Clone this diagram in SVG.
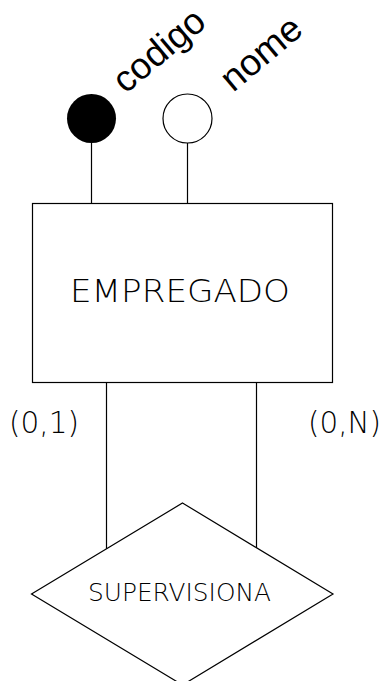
<svg xmlns="http://www.w3.org/2000/svg" width="386" height="681" viewBox="0 0 386 681">
<style>
.s{fill:none;stroke:#000;stroke-width:1.2}
.n{fill:#fff;stroke:#000;stroke-width:1.2}
.t{font-family:"DejaVu Sans","Liberation Sans",sans-serif;font-weight:200;fill:#000}
.r{font-family:"Liberation Sans",Arial,sans-serif;font-size:37px;fill:#000}
</style>
<rect width="386" height="681" fill="#fff"/>
<g id="connectors">
<line class="s" x1="91.5" y1="143" x2="91.5" y2="203"/>
<line class="s" x1="187.5" y1="143" x2="187.5" y2="203"/>
<line class="s" x1="106.5" y1="383" x2="106.5" y2="549"/>
<line class="s" x1="256.5" y1="383" x2="256.5" y2="549"/>
<text class="t" x="9" y="433" font-size="30" textLength="70" lengthAdjust="spacingAndGlyphs">(0,1)</text>
<text class="t" x="308" y="433" font-size="30" textLength="73" lengthAdjust="spacingAndGlyphs">(0,N)</text>
</g>
<g id="attr-codigo">
<circle cx="91.5" cy="118.5" r="24.5" fill="#000"/>
<text class="r" textLength="108" lengthAdjust="spacingAndGlyphs" transform="translate(125.5 94.5) rotate(-40)">codigo</text>
</g>
<g id="attr-nome">
<circle class="n" cx="187.5" cy="118.5" r="24.5"/>
<text class="r" textLength="94" lengthAdjust="spacingAndGlyphs" transform="translate(233 93) rotate(-40)">nome</text>
</g>
<g id="empregado">
<rect class="n" x="32.5" y="203.5" width="300" height="179"/>
<text class="t" x="70" y="302" font-size="32" textLength="220" lengthAdjust="spacingAndGlyphs">EMPREGADO</text>
</g>
<g id="supervisiona">
<polygon class="n" points="182.5,503 333,594 182.5,685 31.5,594"/>
<text class="t" x="88" y="601" font-size="25" textLength="183" lengthAdjust="spacingAndGlyphs">SUPERVISIONA</text>
</g>
</svg>
